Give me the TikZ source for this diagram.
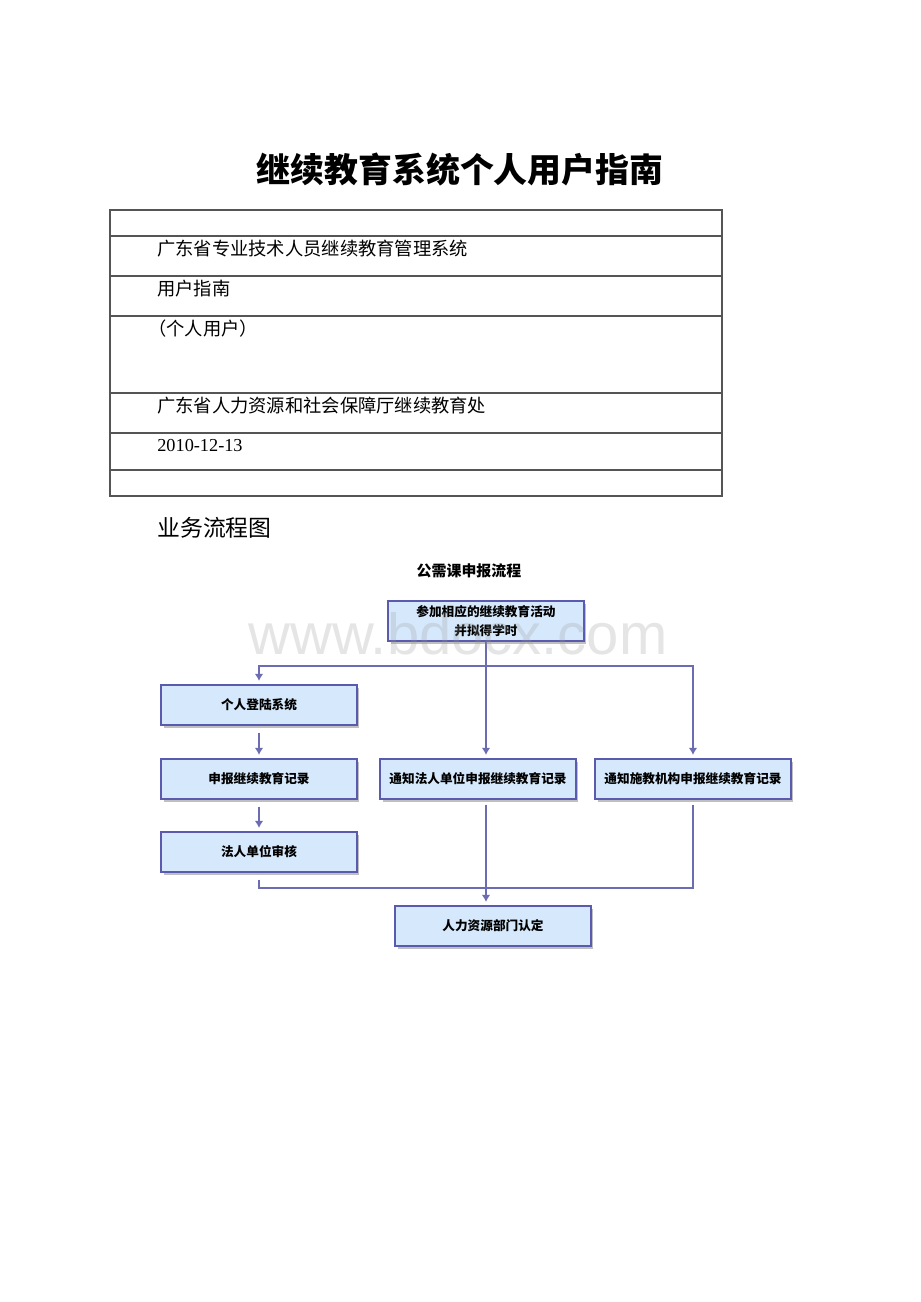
\documentclass[tikz,border=0pt]{standalone}
\usepackage{fontspec}
\setmainfont{Liberation Serif}
\newfontfamily\cjk{Noto Sans CJK SC}
\newfontfamily\wmfont{Liberation Sans}
\usetikzlibrary{arrows.meta,shadows}
\definecolor{boxfill}{HTML}{D6E9FC}
\definecolor{boxline}{HTML}{5A5AAE}
\definecolor{flowline}{HTML}{6C6CB2}
\definecolor{rule}{HTML}{555555}

\begin{document}
\begin{tikzpicture}[x=0.02cm, y=-0.02cm, font=\cjk]
\tikzset{stepbox/.style={draw=boxline, fill=boxfill, line width=0.8pt, minimum width=3.92cm, minimum height=0.8cm, align=center, font=\cjk\bfseries\fontsize{7.2}{11}\selectfont, drop shadow={shadow xshift=0.05cm, shadow yshift=-0.05cm, fill=black!25, opacity=1}} }
\tikzset{flow/.style={draw=flowline, line width=1.5pt}}
\tikzset{>={Latex[width=5pt,length=4pt]}}
\tikzset{rowtext/.style={anchor=west, inner sep=0pt, font=\cjk\fontsize{10.4}{12}\selectfont}}
\useasboundingbox[fill=white] (0,0) rectangle (920,1302);

% title and cover table
\node[font=\cjk\bfseries\fontsize{19.3}{22}\selectfont] (title) at (460,170) {继续教育系统个人用户指南};
\draw[rule, line width=0.6pt] (110,210) rectangle (722,496);
\foreach \ry in {236,276,316,393,433,470}
  \draw[rule, line width=0.6pt] (110,\ry) -- (722,\ry);
\node[rowtext] (sys) at (157,249) {广东省专业技术人员继续教育管理系统};
\node[rowtext] (guide) at (157,289) {用户指南};
\node[rowtext] (user) at (148,329) {（个人用户）};
\node[rowtext] (dept) at (157,406) {广东省人力资源和社会保障厅继续教育处};
\node[rowtext, font=\fontsize{10.4}{12}\selectfont] (date) at (157,446) {2010-12-13};
\node[anchor=west, inner sep=0pt, font=\cjk\fontsize{13}{15}\selectfont] (chart) at (157,528) {业务流程图};

% flow chart
\node[font=\cjk\bfseries\fontsize{8.5}{10}\selectfont] (ftitle) at (469,571) {公需课申报流程};
\node[stepbox, inner ysep=1pt] (top) at (486,621) {参加相应的继续教育活动\\并拟得学时};
\node[stepbox] (login) at (259,705) {个人登陆系统};
\node[stepbox] (record) at (259,779) {申报继续教育记录};
\node[stepbox] (audit) at (259,852) {法人单位审核};
\node[stepbox] (legal) at (478,779) {通知法人单位申报继续教育记录};
\node[stepbox] (inst) at (693,779) {通知施教机构申报继续教育记录};
\node[stepbox] (hr) at (493,926) {人力资源部门认定};
\coordinate (split) at (486,666);
\coordinate (merge) at (486,888);

\draw[flow, ->, shorten >=2pt] (top.south) -- (top.south |- legal.north);
\draw[flow, ->, shorten >=2pt] (split) -| (login.north);
\draw[flow, ->, shorten >=2pt] (split) -| (inst.north);
\draw[flow, ->, shorten <=4pt, shorten >=2pt] (login) -- (record);
\draw[flow, ->, shorten <=4pt, shorten >=2pt] (record) -- (audit);
\draw[flow, shorten <=4pt] (audit.south) |- (merge) -| ([yshift=-0.1cm]inst.south);
\draw[flow, ->, shorten >=2pt] ([yshift=-0.1cm]top.south |- legal.south) -- (top.south |- hr.north);

% watermark
\node[font=\wmfont\fontsize{33}{36}\selectfont, text=black!40, opacity=0.25] (mark) at (458,634) {www.bdocx.com};
\end{tikzpicture}
\end{document}
